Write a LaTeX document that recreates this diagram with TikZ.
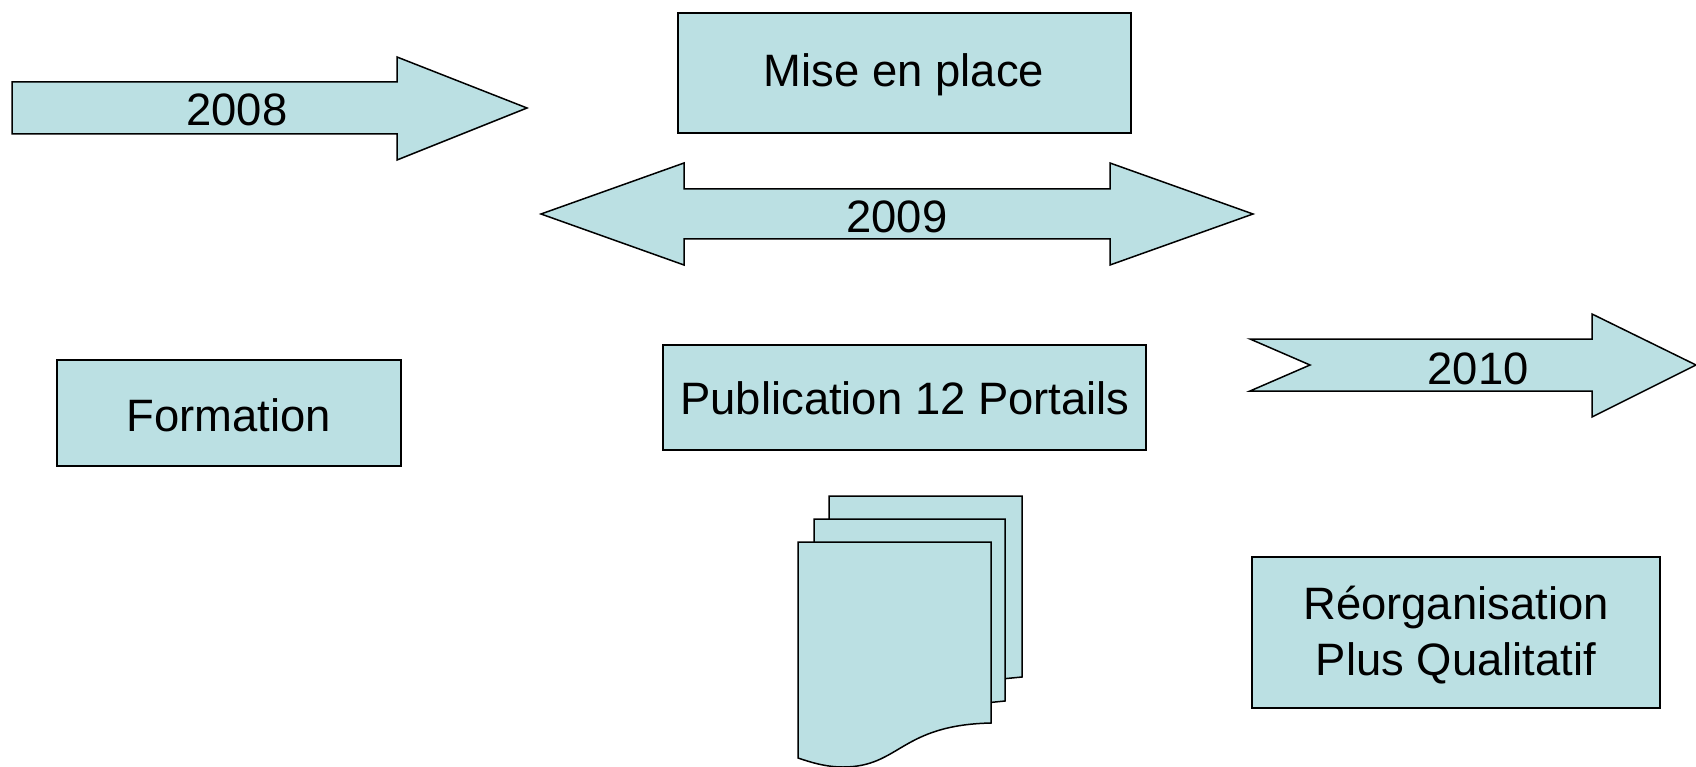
\documentclass[tikz,border=0pt]{standalone}
\usepackage{fontspec}
\setmainfont{Liberation Sans}
\definecolor{shapefill}{HTML}{BBE0E3}
\tikzset{
  shapeline/.style={draw=black,fill=shapefill,line width=1.5pt,line join=miter},
  boxnode/.style={shapeline,anchor=north west,minimum width=0pt,inner sep=0pt},
  label/.style={font=\fontsize{45.4}{56}\selectfont,align=center,inner sep=0pt,text=black}
}
\newcommand{\boxat}[5]{% name x1 y1 x2 y2
  \draw[shapeline] (#2,#3) rectangle (#4,#5);
  \coordinate (#1) at ({(#2+#4)/2},{(#3+#5)/2});
}
\begin{document}
\begin{tikzpicture}[x=1pt,y=-1pt]
\useasboundingbox (0,0) rectangle (1696,767);
% arrows
\draw[shapeline] (12,82) -- (397,82) -- (397,57) -- (527,108) -- (397,160) -- (397,134) -- (12,134) -- cycle;
\node[label] (y2008) at (237,110) {2008};
\draw[shapeline] (541,214) -- (684,163) -- (684,189) -- (1110,189) -- (1110,163) -- (1253,214) -- (1110,265) -- (1110,239) -- (684,239) -- (684,265) -- cycle;
\node[label] (y2009) at (897,217) {2009};
\draw[shapeline] (1250,339) -- (1592,339) -- (1592,314) -- (1696,365) -- (1592,417) -- (1592,391) -- (1250,391) -- (1310,365) -- cycle;
\node[label] (y2010) at (1478,369) {2010};
% boxes
\draw[shapeline] (678,13) rectangle (1131,133);
\node[label] (mise) at (904,75) {Mise en place};
\draw[shapeline] (57,360) rectangle (401,466);
\node[label] (formation) at (229,415) {Formation};
\draw[shapeline] (663,345) rectangle (1146,450);
\node[label] (publication) at (905,398) {Publication 12 Portails};
\draw[shapeline] (1252,557) rectangle (1660,708);
\node[label] (reorg) at (1456,635) {Réorganisation\\Plus Qualitatif};
% multi-document
\draw[shapeline] (829,496) -- (1022,496) -- (1022,677) -- (991,680) -- (829,680) -- cycle;
\draw[shapeline] (814,519) -- (1005,519) -- (1005,701) -- (985,703) -- (814,703) -- cycle;
\draw[shapeline] (798,542) -- (991,542) -- (991,723)
  .. controls (900,725) and (900,767) .. (843,767)
  .. controls (825,767) and (810,762) .. (798,758) -- cycle;
\end{tikzpicture}
\end{document}
